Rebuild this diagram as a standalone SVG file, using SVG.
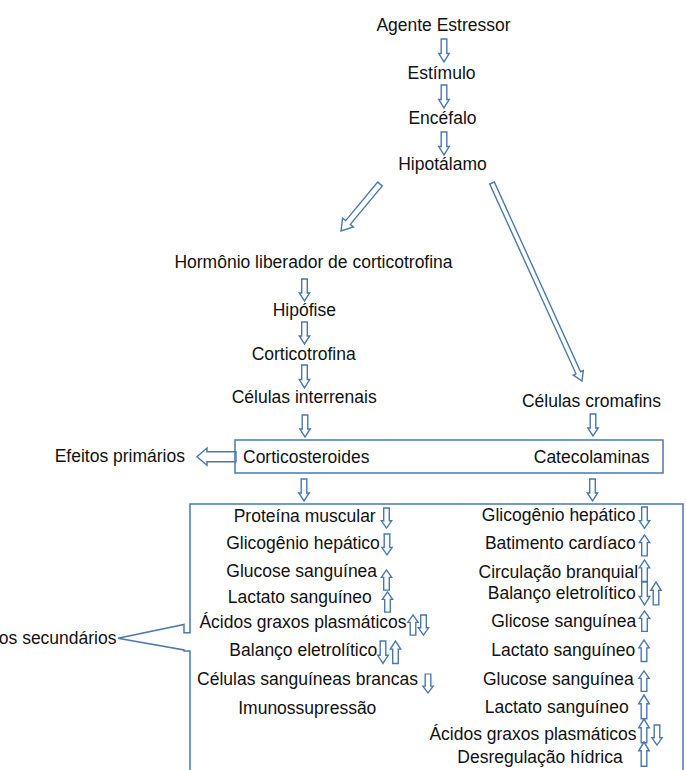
<svg xmlns="http://www.w3.org/2000/svg" width="686" height="770" viewBox="0 0 686 770">
<style>
text{font-family:"Liberation Sans",Arial,sans-serif;font-size:17.5px;fill:#111;text-anchor:middle}
.st{text-anchor:start}
.en{text-anchor:end}
.ln{fill:none;stroke:#4A78AE;stroke-width:1.5}
.ar{fill:#fff;stroke:#4A78AE;stroke-width:1.4;stroke-linejoin:miter}
</style>
<defs>
<path id="dn" d="M-2.8,0 H2.8 V14 H5.2 L0,22 L-5.2,14 H-2.8 Z"/>
<path id="up" d="M-2.8,22 H2.8 V8 H5.2 L0,0 L-5.2,8 H-2.8 Z"/>
</defs>
<rect width="686" height="770" fill="#fff"/>

<g id="connectors">
<use href="#dn" class="ar" transform="translate(444,39) scale(1,1.04)"/>
<use href="#dn" class="ar" transform="translate(444,85) scale(1,1.04)"/>
<use href="#dn" class="ar" transform="translate(444,132) scale(1,1.04)"/>
<polygon class="ar" points="377.7,182.1 382.3,185.9 350.3,224.4 353.4,227.0 341,231 342.6,218.0 345.7,220.6"/>
<polygon class="ar" points="494.3,182.0 489.7,184.0 576.0,373.8 573.3,375.1 582,381 583.3,370.5 580.6,371.8"/>
<use href="#dn" class="ar" transform="translate(304.5,279)"/>
<use href="#dn" class="ar" transform="translate(304.5,322)"/>
<use href="#dn" class="ar" transform="translate(304.5,365) scale(1,1.04)"/>
<use href="#dn" class="ar" transform="translate(305,415)"/>
<use href="#dn" class="ar" transform="translate(593,414)"/>
<use href="#dn" class="ar" transform="translate(304,479)"/>
<use href="#dn" class="ar" transform="translate(592.5,479)"/>
<polygon class="ar" points="236,451.7 207,451.7 207,448 197,456.7 207,465.3 207,461.7 236,461.7"/>
</g>

<g id="n-agente"><text x="443.5" y="31">Agente Estressor</text></g>
<g id="n-estimulo"><text x="441.5" y="79">Estímulo</text></g>
<g id="n-encefalo"><text x="442.5" y="124">Encéfalo</text></g>
<g id="n-hipotalamo"><text x="442.5" y="170">Hipotálamo</text></g>
<g id="n-hormonio"><text x="313.5" y="267.5">Hormônio liberador de corticotrofina</text></g>
<g id="n-hipofise"><text x="304.3" y="316">Hipófise</text></g>
<g id="n-corticotrofina"><text x="303.7" y="359.5">Corticotrofina</text></g>
<g id="n-interrenais"><text x="304.2" y="402.7">Células interrenais</text></g>
<g id="n-cromafins"><text x="591.5" y="406.7">Células cromafins</text></g>

<g id="n-hormonios">
<rect class="ln" x="235" y="440" width="428" height="33" fill="#fff"/>
<text class="st" x="243" y="463.3">Corticosteroides</text>
<text class="en" x="649.5" y="462.5">Catecolaminas</text>
</g>
<g id="n-primarios"><text class="en" x="185" y="462">Efeitos primários</text></g>

<g id="n-secundarios">
<path class="ln" d="M190,780 V651 H184 V650 L118,638.3 L184,624.4 V632.7 H190 V504 H683 V780"/>
<text class="en" x="116.5" y="643.5">Efeitos secundários</text>
</g>

<g id="n-cortico-efeitos">
<text x="304.7" y="521.7">Proteína muscular</text>
<use href="#dn" class="ar" transform="translate(386.5,508) scale(1,0.91)"/>
<text x="303" y="549">Glicogênio hepático</text>
<use href="#dn" class="ar" transform="translate(387,534) scale(1,0.95)"/>
<text x="301.7" y="577.3">Glucose sanguínea</text>
<use href="#up" class="ar" transform="translate(386.5,570) scale(1,0.91)"/>
<text x="299.7" y="603.3">Lactato sanguíneo</text>
<use href="#up" class="ar" transform="translate(387.5,592) scale(1,0.91)"/>
<text x="303" y="628.3">Ácidos graxos plasmáticos</text>
<use href="#up" class="ar" transform="translate(413,615) scale(1,0.91)"/>
<use href="#dn" class="ar" transform="translate(423.5,615) scale(1,0.91)"/>
<text x="303.3" y="656">Balanço eletrolítico</text>
<use href="#dn" class="ar" transform="translate(383,641) scale(1,1.02)"/>
<use href="#up" class="ar" transform="translate(395.5,641) scale(1,1.02)"/>
<text x="307.5" y="685">Células sanguíneas brancas</text>
<use href="#dn" class="ar" transform="translate(428,674) scale(1,0.86)"/>
<text x="307.3" y="714">Imunossupressão</text>
</g>

<g id="n-catecol-efeitos">
<text x="558.7" y="520.7">Glicogênio hepático</text>
<use href="#dn" class="ar" transform="translate(644.5,507) scale(1,0.97)"/>
<text x="560.3" y="549">Batimento cardíaco</text>
<use href="#up" class="ar" transform="translate(644.5,535) scale(1,0.95)"/>
<text x="558.3" y="578.3">Circulação branquial</text>
<use href="#up" class="ar" transform="translate(644.5,560) scale(1,0.98)"/>
<text x="561.7" y="599">Balanço eletrolítico</text>
<use href="#dn" class="ar" transform="translate(644.5,582) scale(1,1.04)"/>
<use href="#up" class="ar" transform="translate(656,582) scale(1,1.04)"/>
<text x="563.7" y="626.7">Glicose sanguínea</text>
<use href="#up" class="ar" transform="translate(644.5,611) scale(1,0.93)"/>
<text x="563.3" y="656">Lactato sanguíneo</text>
<use href="#up" class="ar" transform="translate(644,640) scale(1,0.98)"/>
<text x="558.3" y="685">Glucose sanguínea</text>
<use href="#up" class="ar" transform="translate(644,671) scale(1,0.93)"/>
<text x="556.7" y="713.3">Lactato sanguíneo</text>
<use href="#up" class="ar" transform="translate(644,695) scale(1,1.08)"/>
<text x="533" y="739.5">Ácidos graxos plasmáticos</text>
<use href="#up" class="ar" transform="translate(644,719) scale(1,1.08)"/>
<use href="#dn" class="ar" transform="translate(657,725) scale(1,0.91)"/>
<text x="540" y="763.3">Desregulação hídrica</text>
<use href="#up" class="ar" transform="translate(644,742) scale(1,1.1)"/>
</g>
</svg>
